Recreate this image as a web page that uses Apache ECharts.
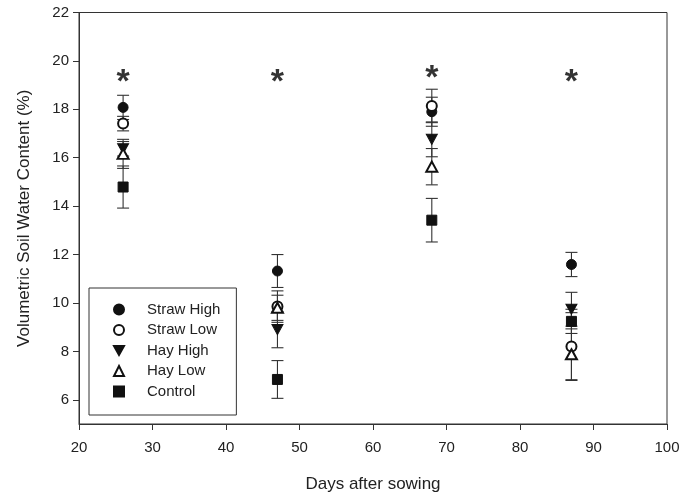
<!DOCTYPE html>
<html>
<head>
<meta charset="utf-8">
<script src="https://cdn.jsdelivr.net/npm/echarts@6/dist/echarts.min.js"></script>
<style>
  html, body { margin: 0; padding: 0; background: #fff; }
  #chart { width: 694px; height: 496px; }
</style>
</head>
<body>
<div id="chart"></div>
<script>
const days = [26, 47, 68, 87];

const strawHigh = [18.08, 11.32, 17.9, 11.59];
const strawHighErr = [0.5, 0.68, 0.6, 0.5];
const strawLow = [17.41, 9.85, 18.14, 8.2];
const strawLowErr = [0.3, 0.65, 0.69, 1.4];
const hayHigh = [16.37, 8.9, 16.76, 9.74];
const hayHighErr = [0.3, 0.75, 0.72, 0.7];
const hayLow = [16.16, 9.8, 15.63, 7.88];
const hayLowErr = [0.6, 0.52, 0.75, 1.05];
const control = [14.79, 6.84, 13.42, 9.24];
const controlErr = [0.87, 0.78, 0.9, 0.5];

const starLevel = [19.45, 19.45, 19.6, 19.45];

const xTicks = [20, 30, 40, 50, 60, 70, 80, 90, 100];
const yTicks = [6, 8, 10, 12, 14, 16, 18, 20, 22];

const font = "Liberation Sans, Arial, sans-serif";
const ink = "#111";
const axisColor = "#333";
const triDown = "path://M0,0 L10,0 L5,9 Z";

const treatments = [
  { name: "Straw High", mean: strawHigh, err: strawHighErr, symbol: "circle", size: 10 },
  { name: "Straw Low", mean: strawLow, err: strawLowErr, symbol: "emptyCircle", size: 10 },
  { name: "Hay High", mean: hayHigh, err: hayHighErr, symbol: triDown, size: [11, 10] },
  { name: "Hay Low", mean: hayLow, err: hayLowErr, symbol: "emptyTriangle", size: [11, 10] },
  { name: "Control", mean: control, err: controlErr, symbol: "rect", size: 10 },
];

// error bar rows: [x, mean, err]
const errRows = [];
treatments.forEach((t) => {
  days.forEach((d, i) => errRows.push([d, t.mean[i], t.err[i]]));
});

function renderErr(params, api) {
  const x = api.value(0);
  const m = api.value(1);
  const e = api.value(2);
  const top = api.coord([x, m + e]);
  const bot = api.coord([x, m - e]);
  const hw = 6;
  const style = { stroke: "#333", lineWidth: 1.1 };
  return {
    type: "group",
    children: [
      { type: "line", shape: { x1: top[0], y1: top[1], x2: bot[0], y2: bot[1] }, style },
      { type: "line", shape: { x1: top[0] - hw, y1: top[1], x2: top[0] + hw, y2: top[1] }, style },
      { type: "line", shape: { x1: bot[0] - hw, y1: bot[1], x2: bot[0] + hw, y2: bot[1] }, style },
    ],
  };
}

const series = [
  {
    name: "err",
    type: "custom",
    renderItem: renderErr,
    data: errRows,
    z: 1,
    silent: true,
  },
];

treatments.forEach((t) => {
  series.push({
    name: t.name,
    type: "scatter",
    symbol: t.symbol,
    symbolSize: t.size,
    data: days.map((d, i) => [d, t.mean[i]]),
    itemStyle: { color: ink, borderColor: ink, borderWidth: 1, opacity: 1 },
    z: 3,
  });
});

series.push({
  name: "stars",
  type: "scatter",
  symbolSize: 1,
  itemStyle: { color: "transparent" },
  data: days.map((d, i) => [d, starLevel[i]]),
  label: {
    show: true,
    position: "inside",
    formatter: "*",
    fontSize: 34,
    fontWeight: "bold",
    color: "#000",
    fontFamily: font,
    offset: [0, 8],
  },
  z: 4,
});

const chart = echarts.init(document.getElementById("chart"));
chart.setOption({
  animation: false,
  backgroundColor: "#fff",
  grid: {
    left: 79,
    right: 27,
    top: 12.5,
    bottom: 72,
    outerBoundsMode: "none",
    show: true,
    borderColor: axisColor,
    borderWidth: 1,
  },
  legend: {
    orient: "vertical",
    left: 89,
    top: 288,
    data: treatments.map((t) => t.name),
    itemWidth: 10,
    itemHeight: 10,
    itemGap: 5.5,
    padding: [14, 16, 16, 24],
    borderColor: axisColor,
    borderWidth: 1,
    textStyle: {
      fontFamily: font,
      fontSize: 15,
      color: "#222",
      padding: [0, 0, 0, 18],
    },
  },
  xAxis: {
    type: "value",
    min: 20,
    max: 100,
    interval: 10,
    name: "Days after sowing",
    nameLocation: "middle",
    nameGap: 52,
    nameTextStyle: { fontFamily: font, fontSize: 17, color: "#222" },
    axisLine: { lineStyle: { color: axisColor } },
    axisTick: { length: 6, lineStyle: { color: axisColor } },
    axisLabel: {
      fontFamily: font,
      fontSize: 15,
      color: "#222",
      margin: 16,
      customValues: xTicks,
    },
    splitLine: { show: false },
  },
  yAxis: {
    type: "value",
    min: 5,
    max: 22,
    name: "Volumetric Soil Water Content (%)",
    nameLocation: "middle",
    nameGap: 46,
    nameTextStyle: { fontFamily: font, fontSize: 17, color: "#222" },
    axisLine: { show: true, lineStyle: { color: axisColor } },
    axisTick: { length: 6, customValues: yTicks, lineStyle: { color: axisColor } },
    axisLabel: {
      fontFamily: font,
      fontSize: 15,
      color: "#222",
      margin: 10,
      customValues: yTicks,
    },
    splitLine: { show: false },
  },
  series,
});
</script>
</body>
</html>
